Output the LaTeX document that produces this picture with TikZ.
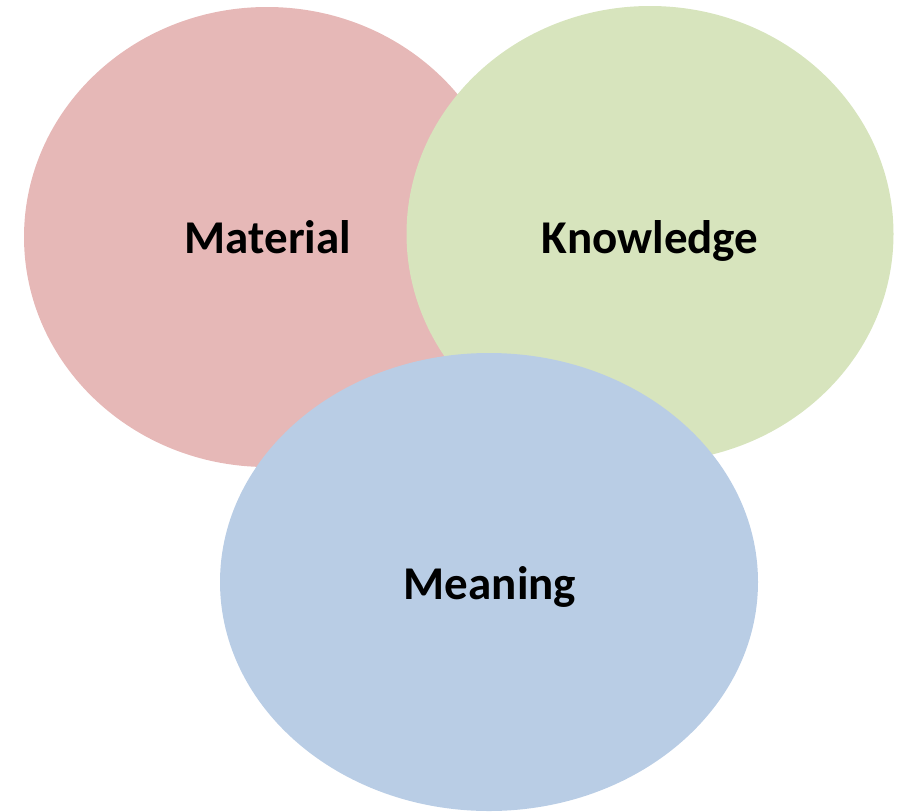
\documentclass[tikz,border=0pt]{standalone}
\usepackage{fontspec}
\setmainfont{Carlito}
\definecolor{redfill}{HTML}{E6B8B7}
\definecolor{greenfill}{HTML}{D7E4BD}
\definecolor{bluefill}{HTML}{B9CDE5}
\tikzset{
  lbl/.style={font=\fontsize{47}{56}\selectfont\bfseries, text=black, anchor=base, inner sep=0pt}
}
\begin{document}
\begin{tikzpicture}[x=1pt,y=-1pt]
\useasboundingbox (0,0) rectangle (901,811);
\fill[redfill] (267,237) ellipse [x radius=243, y radius=230];
\fill[greenfill] (650,234) ellipse [x radius=243.5, y radius=228];
\fill[bluefill] (489,582) ellipse [x radius=269, y radius=229];
\node[lbl] (mat) at (268,253) {Material};
\node[lbl] (kno) at (650,253) {Knowledge};
\node[lbl] (mea) at (490,599) {Meaning};
\end{tikzpicture}
\end{document}
